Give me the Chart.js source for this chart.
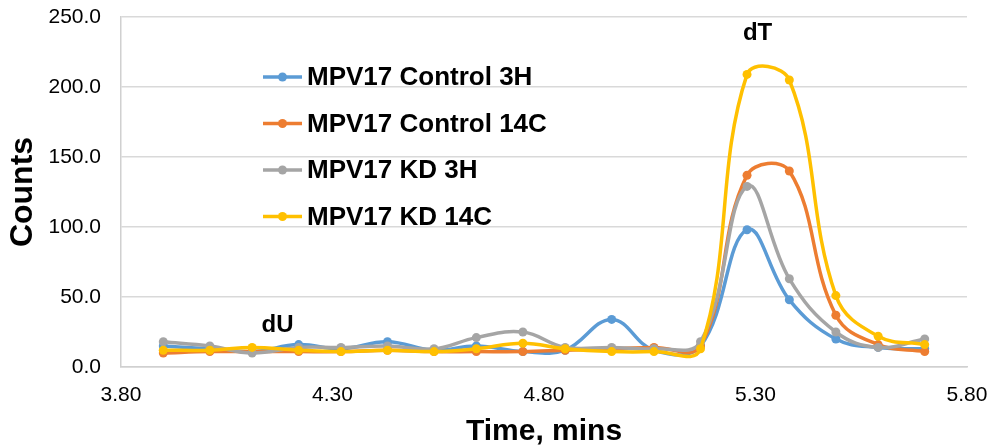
<!DOCTYPE html>
<html>
<head>
<meta charset="utf-8">
<script src="https://cdn.jsdelivr.net/npm/chart.js@4.4.1/dist/chart.umd.min.js"></script>
<style>
  html, body { margin: 0; padding: 0; background: #ffffff; }
  #wrap { width: 994px; height: 447px; position: relative; }
</style>
</head>
<body>
<div id="wrap"><canvas id="chart" width="994" height="447"></canvas></div>
<script>
// Retention time of each fraction (minutes)
const times = [3.90, 4.01, 4.11, 4.22, 4.32, 4.43, 4.54, 4.64, 4.75, 4.85, 4.96, 5.06, 5.17, 5.28, 5.38, 5.49, 5.59, 5.70];

// Counts per fraction for each sample
const control3H  = [15, 13, 11, 16, 13, 18, 12, 15, 11, 12, 34, 12, 15, 98, 48, 20, 14, 13];
const control14C = [10, 11, 11, 11, 11, 12, 11, 11, 11, 12, 13, 14, 15, 137, 140, 37, 16, 11];
const kd3H       = [18, 15, 10, 14, 14, 15, 13, 21, 25, 14, 14, 13, 18, 129, 63, 25, 14, 20];
const kd14C      = [12, 12, 14, 12, 11, 12, 11, 13, 17, 13, 11, 11, 13, 209, 205, 51, 22, 16];

const seriesNames = ['MPV17 Control 3H', 'MPV17 Control 14C', 'MPV17 KD 3H', 'MPV17 KD 14C'];

// Axis ticks
const xTicks = [3.80, 4.30, 4.80, 5.30, 5.80];
const yTicks = [0, 50, 100, 150, 200, 250];

// Peak labels (nucleoside names) at data coordinates
const peakLabels = ['dU', 'dT'];
const peakLabelX = [4.17, 5.305];
const peakLabelY = [30, 238];

const colors = ['#5B9BD5', '#ED7D31', '#A5A5A5', '#FFC000'];
const seriesValues = [control3H, control14C, kd3H, kd14C];

const datasets = seriesValues.map((vals, i) => ({
  label: seriesNames[i],
  data: vals.map((v, j) => ({ x: times[j], y: v })),
  borderColor: colors[i],
  backgroundColor: colors[i],
  borderWidth: 3.5,
  pointRadius: 4.5,
  pointBorderWidth: 0,
  pointHoverRadius: 4.5,
  tension: 0.4,
  fill: false,
  // later series are painted above earlier ones
  order: seriesValues.length - i
}));

const FONT = "'Liberation Sans', Arial, sans-serif";

// Legend drawn inside the plot area
const insideLegend = {
  id: 'insideLegend',
  afterDatasetsDraw(chart, args, opts) {
    const ctx = chart.ctx;
    const area = chart.chartArea;
    ctx.save();
    chart.data.datasets.forEach((ds, i) => {
      const y = area.top + opts.top + i * opts.spacing;
      const x0 = area.left + opts.left;
      ctx.strokeStyle = ds.borderColor;
      ctx.lineWidth = 3.5;
      ctx.beginPath();
      ctx.moveTo(x0, y);
      ctx.lineTo(x0 + 39, y);
      ctx.stroke();
      ctx.fillStyle = ds.borderColor;
      ctx.beginPath();
      ctx.arc(x0 + 19.5, y, 4.5, 0, Math.PI * 2);
      ctx.fill();
      ctx.fillStyle = '#000000';
      ctx.font = 'bold 26px ' + FONT;
      ctx.textBaseline = 'middle';
      ctx.textAlign = 'left';
      ctx.fillText(ds.label, x0 + 44, y + 1);
    });
    ctx.restore();
  }
};

// Peak name labels
const peakText = {
  id: 'peakText',
  afterDatasetsDraw(chart) {
    const ctx = chart.ctx;
    const xs = chart.scales.x, ys = chart.scales.y;
    ctx.save();
    ctx.fillStyle = '#000000';
    ctx.font = 'bold 24px ' + FONT;
    ctx.textAlign = 'center';
    ctx.textBaseline = 'middle';
    peakLabels.forEach((t, i) => {
      ctx.fillText(t, xs.getPixelForValue(peakLabelX[i]), ys.getPixelForValue(peakLabelY[i]));
    });
    ctx.restore();
  }
};

// keep tick-label overhang from widening the chart margins
function noOverhang(scale) {
  scale.paddingTop = 0;
  scale.paddingBottom = 0;
  scale.paddingLeft = 0;
  scale.paddingRight = 0;
}

new Chart(document.getElementById('chart'), {
  type: 'line',
  data: { datasets },
  plugins: [insideLegend, peakText],
  options: {
    responsive: false,
    animation: false,
    events: [],
    layout: { padding: { left: 0, right: 27, top: 17, bottom: 0 } },
    plugins: {
      legend: { display: false },
      tooltip: { enabled: false },
      insideLegend: { left: 142, top: 60, spacing: 46.5 }
    },
    scales: {
      x: {
        type: 'linear',
        min: xTicks[0],
        max: xTicks[xTicks.length - 1],
        afterBuildTicks: (scale) => { scale.ticks = xTicks.map(v => ({ value: v })); },
        afterFit: (scale) => { scale.height = 80; noOverhang(scale); },
        ticks: {
          callback: (v) => Number(v).toFixed(2),
          color: '#000000',
          font: { family: FONT, size: 21 },
          padding: 16,
          maxRotation: 0
        },
        grid: { display: false, drawTicks: false },
        border: { display: true, color: '#d0d0d0', width: 1.5 },
        title: {
          display: true,
          text: 'Time, mins',
          color: '#000000',
          font: { family: FONT, size: 30, weight: 'bold' },
          padding: { top: 0, bottom: -3 }
        }
      },
      y: {
        min: yTicks[0],
        max: yTicks[yTicks.length - 1],
        afterBuildTicks: (scale) => { scale.ticks = yTicks.map(v => ({ value: v })); },
        afterFit: (scale) => { scale.width = 121; noOverhang(scale); },
        ticks: {
          callback: (v) => Number(v).toFixed(1),
          color: '#000000',
          font: { family: FONT, size: 21 },
          padding: 20
        },
        grid: { color: '#d9d9d9', lineWidth: 1.5, drawTicks: false },
        border: { display: true, color: '#d0d0d0', width: 1.5 },
        title: {
          display: true,
          text: 'Counts',
          color: '#000000',
          font: { family: FONT, size: 32, weight: 'bold' },
          padding: { top: 4, bottom: 0 }
        }
      }
    }
  }
});
</script>
</body>
</html>
